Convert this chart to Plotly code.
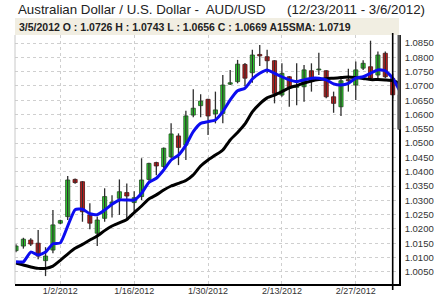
import plotly.graph_objects as go

# ---------------- data ----------------
dates = ["12/23/2011", "12/26/2011", "12/27/2011", "12/28/2011", "12/29/2011", "12/30/2011",
         "1/2/2012", "1/3/2012", "1/4/2012", "1/5/2012", "1/6/2012",
         "1/9/2012", "1/10/2012", "1/11/2012", "1/12/2012", "1/13/2012",
         "1/16/2012", "1/17/2012", "1/18/2012", "1/19/2012", "1/20/2012",
         "1/23/2012", "1/24/2012", "1/25/2012", "1/26/2012", "1/27/2012",
         "1/30/2012", "1/31/2012", "2/1/2012", "2/2/2012", "2/3/2012",
         "2/6/2012", "2/7/2012", "2/8/2012", "2/9/2012", "2/10/2012",
         "2/13/2012", "2/14/2012", "2/15/2012", "2/16/2012", "2/17/2012",
         "2/20/2012", "2/21/2012", "2/22/2012", "2/23/2012", "2/24/2012",
         "2/27/2012", "2/28/2012", "2/29/2012", "3/1/2012", "3/2/2012",
         "3/5/2012", "3/6/2012"]

opens = [1.0124, 1.0140, 1.0161, 1.0150, 1.0089, 1.0126, 1.0220, 1.0243, 1.0373, 1.0365,
         1.0249, 1.0185, 1.0237, 1.0288, 1.0307, 1.0327, 1.0292, 1.0313, 1.0373, 1.0432,
         1.0418, 1.0452, 1.0525, 1.0493, 1.0598, 1.0631, 1.0653, 1.0602, 1.0604, 1.0706,
         1.0715, 1.0775, 1.0746, 1.0810, 1.0802, 1.0788, 1.0668, 1.0732, 1.0695, 1.0697,
         1.0753, 1.0756, 1.0753, 1.0662, 1.0627, 1.0722, 1.0703, 1.0762, 1.0767, 1.0738,
         1.0814, 1.0726, 1.0669]
highs = [1.0146, 1.0169, 1.0167, 1.0196, 1.0136, 1.0266, 1.0232, 1.0385, 1.0376, 1.0367,
         1.0290, 1.0243, 1.0342, 1.0318, 1.0373, 1.0359, 1.0332, 1.0447, 1.0431, 1.0435,
         1.0485, 1.0569, 1.0534, 1.0613, 1.0688, 1.0671, 1.0655, 1.0680, 1.0738, 1.0756,
         1.0791, 1.0780, 1.0826, 1.0843, 1.0826, 1.0790, 1.0779, 1.0735, 1.0779, 1.0773,
         1.0779, 1.0816, 1.0755, 1.0680, 1.0727, 1.0760, 1.0785, 1.0790, 1.0858, 1.0820,
         1.0820, 1.0743, 1.0680]
lows = [1.0118, 1.0131, 1.0140, 1.0094, 1.0035, 1.0115, 1.0216, 1.0231, 1.0358, 1.0225,
        1.0199, 1.0140, 1.0225, 1.0240, 1.0249, 1.0231, 1.0262, 1.0301, 1.0368, 1.0388,
        1.0412, 1.0447, 1.0423, 1.0441, 1.0590, 1.0590, 1.0528, 1.0569, 1.0569, 1.0703,
        1.0709, 1.0699, 1.0711, 1.0770, 1.0744, 1.0639, 1.0662, 1.0627, 1.0632, 1.0645,
        1.0680, 1.0738, 1.0657, 1.0606, 1.0595, 1.0680, 1.0651, 1.0756, 1.0727, 1.0727,
        1.0727, 1.0656, 1.0540]
closes = [1.0140, 1.0164, 1.0147, 1.0105, 1.0105, 1.0214, 1.0229, 1.0371, 1.0362, 1.0260,
          1.0220, 1.0231, 1.0313, 1.0294, 1.0330, 1.0315, 1.0309, 1.0371, 1.0429, 1.0420,
          1.0482, 1.0532, 1.0485, 1.0595, 1.0622, 1.0647, 1.0595, 1.0616, 1.0703, 1.0711,
          1.0776, 1.0727, 1.0808, 1.0805, 1.0788, 1.0674, 1.0744, 1.0697, 1.0699, 1.0756,
          1.0721, 1.0759, 1.0662, 1.0639, 1.0718, 1.0718, 1.0756, 1.0779, 1.0727, 1.0808,
          1.0732, 1.0669, 1.0548]

# fast moving average (blue) and 15-day SMA (black), read per day
sma_fast = [1.0085, 1.0085, 1.0119, 1.0109, 1.0119, 1.0148, 1.0151, 1.0210, 1.0267, 1.0269,
            1.0253, 1.0250, 1.0266, 1.0286, 1.0301, 1.0301, 1.0301, 1.0325, 1.0363, 1.0377,
            1.0406, 1.0441, 1.0458, 1.0493, 1.0540, 1.0569, 1.0575, 1.0581, 1.0610, 1.0651,
            1.0683, 1.0692, 1.0724, 1.0744, 1.0756, 1.0744, 1.0732, 1.0721, 1.0715, 1.0721,
            1.0727, 1.0727, 1.0721, 1.0707, 1.0703, 1.0709, 1.0727, 1.0732, 1.0744, 1.0756,
            1.0753, 1.0727, 1.0680]
sma15 = [1.0081, 1.0074, 1.0067, 1.0062, 1.0062, 1.0070, 1.0090, 1.0112, 1.0132, 1.0146,
         1.0161, 1.0175, 1.0194, 1.0210, 1.0221, 1.0233, 1.0257, 1.0280, 1.0305, 1.0319,
         1.0336, 1.0350, 1.0359, 1.0369, 1.0389, 1.0420, 1.0441, 1.0458, 1.0476, 1.0511,
         1.0537, 1.0567, 1.0609, 1.0637, 1.0658, 1.0668, 1.0680, 1.0693, 1.0701, 1.0710,
         1.0717, 1.0722, 1.0725, 1.0727, 1.0729, 1.0731, 1.0729, 1.0726, 1.0722, 1.0722,
         1.0721, 1.0719, 1.0707]

x_tick_labels = ["1/2/2012", "1/16/2012", "1/30/2012", "2/13/2012", "2/27/2012"]
y_tick_vals = [1.0050, 1.0100, 1.0150, 1.0200, 1.0250, 1.0300, 1.0350, 1.0400, 1.0450,
               1.0500, 1.0550, 1.0600, 1.0650, 1.0700, 1.0750, 1.0800, 1.0850]

title_left = "Australian Dollar / U.S. Dollar -  AUD/USD"
title_right = "(12/23/2011 - 3/6/2012)"
cursor_date = "3/5/2012"
sma_label = "A15SMA"

# ---------------- figure ----------------
W, H = 434, 297
ML, MR, MT, MB = 15, 35, 35, 13
PH = H - MT - MB


def py(pix):  # pixel row -> paper y
    return (H - MB - pix) / PH


def px(pix):  # pixel column -> paper x
    return (pix - ML) / (W - ML - MR)


FONT = 'Arial, "Liberation Sans", sans-serif'
n_full = len(dates) - 1          # last day is the partial (current) bar
xs = list(range(len(dates)))
ci = dates.index(cursor_date)

fig = go.Figure()

# wicks
wx, wy = [], []
for i in range(n_full):
    wx += [i, i, None]
    wy += [lows[i], highs[i], None]
fig.add_trace(go.Scatter(x=wx, y=wy, mode="lines", line=dict(color="#2e2e2e", width=1.3),
                         hoverinfo="skip"))

up = [i for i in range(n_full) if closes[i] >= opens[i]]
dn = [i for i in range(n_full) if closes[i] < opens[i]]


def body(idx, fill, edge):
    return go.Bar(x=idx,
                  y=[max(abs(closes[i] - opens[i]), 0.00012) for i in idx],
                  base=[min(opens[i], closes[i]) for i in idx],
                  width=0.56,
                  marker=dict(color=fill, line=dict(color=edge, width=0.8)))


fig.add_trace(body(up, "#2fd12f", "#1e4d1e"))
fig.add_trace(body(dn, "#c41e1e", "#4a1010"))
fig.add_trace(body([n_full], "#707070", "#505050"))

# moving averages
fig.add_trace(go.Scatter(x=xs, y=sma15, mode="lines",
                         line=dict(color="black", width=3, shape="spline", smoothing=0.5)))
fig.add_trace(go.Scatter(x=xs, y=sma_fast, mode="lines",
                         line=dict(color="#0c0cf0", width=3, shape="spline", smoothing=0.5)))

step = 7.386
x0 = (ML - 16) / step
x1 = (W - MR - 16) / step
y_top = y_tick_vals[-1] + (43 - MT) / 14.3 * 0.005
y_bot = y_tick_vals[-1] - (H - MB - 43) / 14.3 * 0.005

grid = dict(showgrid=True, gridcolor="#cfcfcf", griddash="dot", gridwidth=1, zeroline=False)

fig.update_layout(
    width=W, height=H, margin=dict(l=ML, r=MR, t=MT, b=MB, autoexpand=False),
    paper_bgcolor="white", plot_bgcolor="white", showlegend=False, barmode="overlay",
    font=dict(family=FONT, color="#333333", size=10),
    xaxis=dict(range=[x0, x1], tickmode="array", automargin=False,
               tickvals=[dates.index(t) for t in x_tick_labels], ticktext=x_tick_labels,
               showline=True, linecolor="black", linewidth=2, ticks="",
               ticklabelstandoff=-3,
               tickfont=dict(size=9, color="#333333"), **grid),
    yaxis=dict(range=[y_bot, y_top], side="right", tickmode="array", automargin=False,
               tickvals=y_tick_vals, ticktext=[f"{v:.4f}" for v in y_tick_vals],
               showline=True, linecolor="black", linewidth=1.5, ticks="",
               ticklabelstandoff=2, tickfont=dict(size=9.5, color="#333333"), **grid),
)

cur_text = (f"{cursor_date} O : {opens[ci]:.4f} H : {highs[ci]:.4f} L : {lows[ci]:.4f} "
            f"C : {closes[ci]:.4f} {sma_label}: {sma15[ci]:.4f}")

fig.update_layout(
    shapes=[
        dict(type="rect", xref="paper", yref="paper", x0=0, x1=1, y0=1.0, y1=py(18),
             fillcolor="#f1eee2", line=dict(width=0), layer="below"),
        dict(type="line", xref="paper", yref="paper", x0=0, x1=0, y0=0, y1=1,
             line=dict(color="#c8c8c8", width=1)),
        dict(type="line", xref="x", yref="paper", x0=ci, x1=ci, y0=py(290), y1=py(33),
             line=dict(color="black", width=1.6)),
        dict(type="line", xref="paper", yref="y", x0=1, x1=1, y0=closes[-1], y1=y_top,
             line=dict(color="#555555", width=3)),
    ],
    annotations=[
        dict(xref="paper", yref="paper", x=px(16), y=py(9), xanchor="left", yanchor="middle",
             text=title_left, showarrow=False, font=dict(size=13.3, color="#222222", family=FONT)),
        dict(xref="paper", yref="paper", x=px(427), y=py(9), xanchor="right", yanchor="middle",
             text=title_right, showarrow=False, font=dict(size=13.3, color="#222222", family=FONT)),
        dict(xref="paper", yref="paper", x=px(16.5), y=py(27), xanchor="left", yanchor="middle",
             text="<b>" + cur_text + "</b>", showarrow=False,
             font=dict(size=10.5, color="#222222", family=FONT)),
    ],
)

fig.write_html("out.html")
